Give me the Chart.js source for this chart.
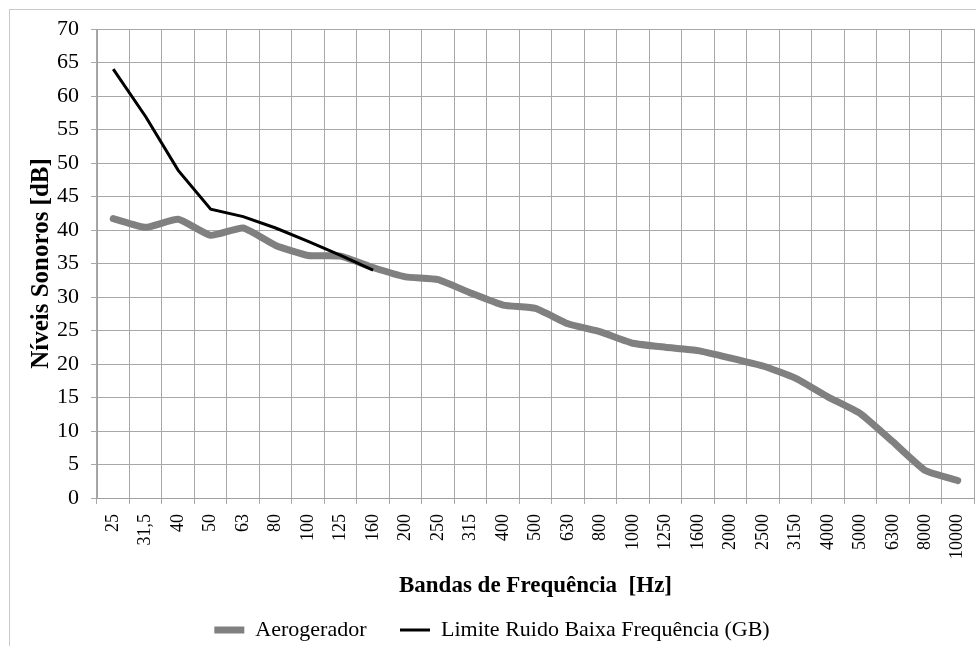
<!DOCTYPE html>
<html>
<head>
<meta charset="utf-8">
<script src="https://cdn.jsdelivr.net/npm/chart.js@4"></script>
<style>
    html, body { margin: 0; padding: 0; background: #fff; }
    #wrap { width: 976px; height: 646px; }
</style>
</head>
<body>
<div id="wrap"><canvas id="noiseChart" width="976" height="646"></canvas></div>
<script>
// Bandas de frequência (Hz)
const bandas = ["25", "31,5", "40", "50", "63", "80", "100", "125", "160", "200", "250", "315", "400", "500",
    "630", "800", "1000", "1250", "1600", "2000", "2500", "3150", "4000", "5000", "6300", "8000", "10000"];

// Níveis medidos do aerogerador (dB)
const aerogerador = [41.7, 40.4, 41.6, 39.2, 40.3, 37.7, 36.2, 36.1, 34.4, 33.0, 32.6, 30.6, 28.8, 28.3,
    26.0, 24.8, 23.1, 22.5, 22.0, 20.9, 19.7, 17.9, 15.1, 12.6, 8.4, 4.1, 2.6];

// Limite GB - só até 160 Hz
const limiteGB = [64, 56.9, 48.9, 43.1, 42.0, 40.3, 38.3, 36.2, 34.0];

const serif = "'Liberation Serif', 'Times New Roman', serif";

// moldura cinza à volta do gráfico
const frame = {
    id: "frame",
    beforeDraw(chart) {
        const c = chart.ctx;
        c.save();
        c.strokeStyle = "#c8c8c8";
        c.lineWidth = 1;
        c.strokeRect(9.5, 9.5, 980, 660);
        c.restore();
    }
};

const ctx = document.getElementById("noiseChart");
new Chart(ctx, {
    type: "line",
    data: {
        labels: bandas,
        datasets: [
            {
                label: "Aerogerador",
                data: aerogerador,
                borderColor: "#808080",
                backgroundColor: "#808080",
                borderWidth: 7,
                pointRadius: 0,
                tension: 0.15,
                borderCapStyle: "round",
                borderJoinStyle: "round",
                order: 2
            },
            {
                label: "Limite Ruido Baixa Frequência (GB)",
                data: limiteGB,
                borderColor: "#000000",
                backgroundColor: "#000000",
                borderWidth: 3,
                pointRadius: 0,
                tension: 0,
                order: 1 // por cima da linha cinza
            }
        ]
    },
    options: {
        responsive: false,
        animation: false,
        layout: { padding: { left: 10, right: 2, top: 29, bottom: -5 } },
        plugins: {
            tooltip: { enabled: false },
            legend: {
                position: "bottom",
                labels: {
                    usePointStyle: true,
                    pointStyle: "line",
                    pointStyleWidth: 30,
                    boxHeight: 22,
                    color: "#000",
                    padding: 6,
                    font: { family: serif, size: 22 },
                    sort: (a, b) => a.datasetIndex - b.datasetIndex,
                    // espaço extra entre as duas entradas, como no original
                    generateLabels(chart) {
                        const items = Chart.defaults.plugins.legend.labels.generateLabels(chart);
                        items.forEach(it => {
                            if (it.datasetIndex === 0) it.text = it.text + "     ";
                        });
                        return items;
                    }
                }
            }
        },
        scales: {
            x: {
                offset: true,
                afterFit(scale) {
                    scale.height = 115;
                    scale.paddingLeft = 0;
                    scale.paddingRight = 0;
                },
                grid: { offset: true, color: "#a8a8a8", tickLength: 6 },
                border: { color: "#a0a0a0" },
                ticks: {
                    autoSkip: false,
                    minRotation: 90,
                    maxRotation: 90,
                    color: "#000",
                    padding: 10,
                    font: { family: serif, size: 18 }
                },
                title: {
                    display: true,
                    text: "Bandas de Frequência  [Hz]",
                    color: "#000",
                    font: { family: serif, size: 23, weight: "bold" },
                    padding: { top: 4, bottom: 13 }
                }
            },
            y: {
                min: 0,
                max: 70,
                afterFit(scale) { scale.width = 87; },
                grid: { color: "#a8a8a8", tickLength: 6 },
                border: { color: "#a0a0a0" },
                ticks: {
                    stepSize: 5,
                    color: "#000",
                    padding: 12,
                    font: { family: serif, size: 22 }
                },
                title: {
                    display: true,
                    text: "Níveis Sonoros [dB]",
                    color: "#000",
                    font: { family: serif, size: 25, weight: "bold" },
                    padding: { top: 17, bottom: 0 }
                }
            }
        }
    },
    plugins: [frame]
});
</script>
</body>
</html>
